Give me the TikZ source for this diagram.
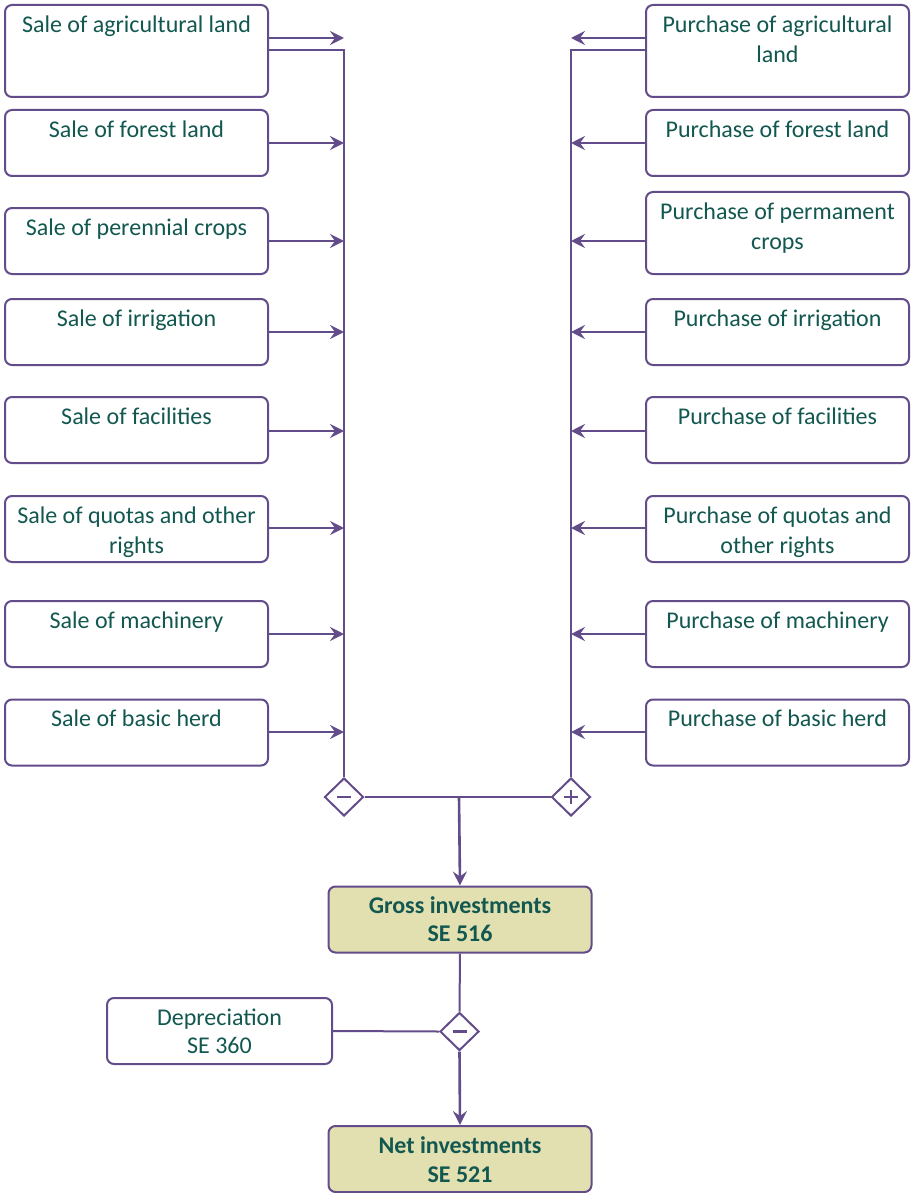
\documentclass[tikz,border=0pt]{standalone}
\usepackage{fontspec}
\setmainfont{Carlito}
\usetikzlibrary{arrows.meta,shapes.geometric}
\definecolor{lnc}{RGB}{99,76,138}
\definecolor{txc}{RGB}{18,88,80}
\definecolor{gfc}{RGB}{226,223,176}
\newcommand{\tstrut}{\rule{0pt}{19pt}}
\tikzset{
 box/.style={draw=lnc, line width=2pt, rounded corners=7pt, fill=white, inner sep=0pt, minimum width=263pt, minimum height=66pt},
 res/.style={box, fill=gfc},
 txt/.style={text=txc, font=\fontsize{24}{30}\selectfont, align=center, inner sep=0pt, anchor=north},
 arr/.style={draw=lnc, line width=2.6pt, -{Stealth[length=14pt,width=14pt,inset=5pt]}},
 lnk/.style={draw=lnc, line width=2pt},
 dia/.style={diamond, draw=lnc, line width=2pt, fill=white, minimum width=39pt, minimum height=38pt, inner sep=0pt},
 sgn/.style={draw=lnc, line width=2.6pt},
}
\begin{document}
\begin{tikzpicture}[x=1pt,y=-1pt]
\useasboundingbox (0,0) rectangle (910,1193);

% left boxes
\node[box, minimum height=92pt] (L1) at (136.5,51) {};
\node[txt] (L1t) at (136.5,13) {\tstrut Sale of agricultural land};
\node[box] (L2) at (136.5,143) {};
\node[txt] (L2t) at (136.5,118) {\tstrut Sale of forest land};
\node[box] (L3) at (136.5,241) {};
\node[txt] (L3t) at (136.5,216) {\tstrut Sale of perennial crops};
\node[box] (L4) at (136.5,332) {};
\node[txt] (L4t) at (136.5,307) {\tstrut Sale of irrigation};
\node[box] (L5) at (136.5,430) {};
\node[txt] (L5t) at (136.5,405) {\tstrut Sale of facilities};
\node[box] (L6) at (136.5,529) {};
\node[txt] (L6t) at (136.5,504) {\tstrut Sale of quotas and other\\rights};
\node[box] (L7) at (136.5,634) {};
\node[txt] (L7t) at (136.5,609) {\tstrut Sale of machinery};
\node[box] (L8) at (136.5,732.5) {};
\node[txt] (L8t) at (136.5,707) {\tstrut Sale of basic herd};

% right boxes
\node[box, minimum height=92pt] (R1) at (777.5,51) {};
\node[txt] (R1t) at (777.5,13) {\tstrut Purchase of agricultural\\land};
\node[box] (R2) at (777.5,143) {};
\node[txt] (R2t) at (777.5,118) {\tstrut Purchase of forest land};
\node[box, minimum height=82pt] (R3) at (777.5,233) {};
\node[txt] (R3t) at (777.5,200) {\tstrut Purchase of permament\\crops};
\node[box] (R4) at (777.5,332) {};
\node[txt] (R4t) at (777.5,307) {\tstrut Purchase of irrigation};
\node[box] (R5) at (777.5,430) {};
\node[txt] (R5t) at (777.5,405) {\tstrut Purchase of facilities};
\node[box] (R6) at (777.5,529) {};
\node[txt] (R6t) at (777.5,504) {\tstrut Purchase of quotas and\\other rights};
\node[box] (R7) at (777.5,634) {};
\node[txt] (R7t) at (777.5,609) {\tstrut Purchase of machinery};
\node[box] (R8) at (777.5,732.5) {};
\node[txt] (R8t) at (777.5,707) {\tstrut Purchase of basic herd};

% bus coordinates
\coordinate (lb0) at (344,50);
\coordinate (rb0) at (571,50);
\foreach \n/\y in {1/38,2/143,3/241,4/332,5/431,6/528,7/634,8/732}{
  \coordinate (lb\n) at (344,\y);
  \coordinate (rb\n) at (571,\y);
}

% diamonds
\node[dia] (dm1) at (344,797) {};
\node[dia] (dp1) at (571,797) {};
\draw[sgn] ([xshift=-7pt]dm1.center) -- ([xshift=7pt]dm1.center);
\draw[sgn] ([xshift=-7pt]dp1.center) -- ([xshift=7pt]dp1.center);
\draw[sgn] ([yshift=-7pt]dp1.center) -- ([yshift=7pt]dp1.center);

% left bus
\draw[lnk] (L1.east |- lb0) -- (lb0) -- (dm1.north);
\foreach \n in {1,...,8}{
  \draw[arr] (L\n.east |- lb\n) -- (lb\n);
}
% right bus
\draw[lnk] (R1.west |- rb0) -- (rb0) -- (dp1.north);
\foreach \n in {1,...,8}{
  \draw[arr] (R\n.west |- rb\n) -- (rb\n);
}

% join
\coordinate (mid) at (459,797);
\draw[lnk] (dm1.east) -- (dp1.west);

% gross
\node[res] (G) at (460,919.5) {};
\node[txt, font=\fontsize{24}{28}\selectfont\bfseries] (Gt) at (460,894) {\tstrut Gross investments\\SE 516};
\draw[arr] (mid) -- (G.north);

% depreciation
\node[box, minimum width=225pt] (D) at (219.5,1031) {};
\node[txt, font=\fontsize{24}{28}\selectfont] (Dt) at (219.5,1006) {\tstrut Depreciation\\SE 360};
\node[dia] (dm2) at (459.5,1031.5) {};
\draw[sgn] ([xshift=-7pt]dm2.center) -- ([xshift=7pt]dm2.center);
\draw[lnk] (G.south) -- (dm2.north);
\draw[lnk] (D.east) -- (dm2.west);

% net
\node[res] (N) at (460,1159) {};
\node[txt, font=\fontsize{24}{29}\selectfont\bfseries] (Nt) at (460,1134) {\tstrut Net investments\\SE 521};
\draw[arr] (dm2.south) -- (N.north);
\end{tikzpicture}
\end{document}
